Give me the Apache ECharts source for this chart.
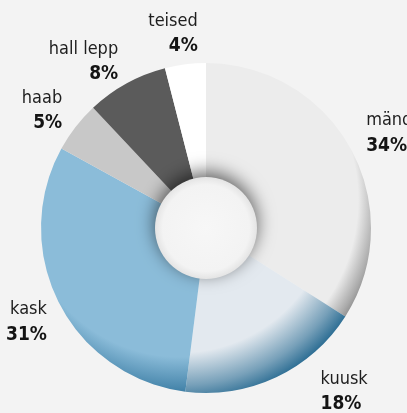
<!DOCTYPE html>
<html>
<head>
<meta charset="utf-8">
<script src="https://cdn.jsdelivr.net/npm/echarts@6/dist/echarts.min.js"></script>
<style>
  html, body { margin: 0; padding: 0; background: #f3f3f3; }
  #chart { width: 407px; height: 413px; }
</style>
</head>
<body>
<div id="chart"></div>
<script>
// tree species share, %
var species = ['mänd', 'kuusk', 'kask', 'haab', 'hall lepp', 'teised']
var shares = [34, 18, 31, 5, 8, 4]

// base colour, rim colour and where the rim shading starts, per slice
var baseColors = ['#ececec', '#e3e9ef', '#8bbcd9', '#c8c8c8', '#5b5b5b', '#ffffff']
var rimColors = ['#6a6a6a', '#0a5682', '#0a5682', '#8e8e8e', '#383838', '#cfcfcf']
var rimStart = [0.84, 0.72, 0.74, 0.84, 0.84, 0.84]

var CX = 206
var CY = 228
var LABEL_R = 201
// where the aligned edge of each label sits, relative to its radial spot
var labelShift = {
  'mänd': [-16, 2],
  'kuusk': [29, -18],
  'kask': [20, 3],
  'haab': [15, 6],
  'hall lepp': [9, 10],
  'teised': [17, 5]
}

var total = shares.reduce(function (a, b) { return a + b }, 0)

function midAngle(i) {
  var before = 0
  for (var k = 0; k < i; k++) before += shares[k]
  return (before + shares[i] / 2) / total * Math.PI * 2
}

function shade(i) {
  var s = rimStart[i]
  return {
    type: 'radial',
    x: 180,
    y: 200,
    r: 212,
    global: true,
    colorStops: [
      { offset: 0, color: baseColors[i] },
      { offset: s, color: baseColors[i] },
      { offset: s + (1 - s) * 0.55, color: echarts.color.lerp(0.5, [baseColors[i], rimColors[i]]) },
      { offset: 1, color: rimColors[i] }
    ]
  }
}

var chart = echarts.init(document.getElementById('chart'))

chart.setOption({
  backgroundColor: '#f3f3f3',
  animation: false,
  series: [
    {
      type: 'pie',
      center: [CX, CY],
      radius: [40, 165],
      startAngle: 90,
      clockwise: true,
      avoidLabelOverlap: false,
      silent: true,
      data: species.map(function (name, i) {
        return { name: name, value: shares[i], itemStyle: { color: shade(i) } }
      }),
      label: {
        show: true,
        position: 'outside',
        formatter: '{n|{b}}\n{p|{c}%}',
        rich: {
          n: {
            fontFamily: '"DejaVu Sans Condensed", Roboto, sans-serif',
            fontSize: 18,
            color: '#1e1e1e',
            lineHeight: 25
          },
          p: {
            fontFamily: '"DejaVu Sans Condensed", Roboto, sans-serif',
            fontSize: 19,
            fontWeight: 'bold',
            color: '#141414',
            lineHeight: 25
          }
        }
      },
      labelLine: { show: false },
      labelLayout: function (p) {
        var a = midAngle(p.dataIndex)
        var s = Math.sin(a)
        var n = labelShift[species[p.dataIndex]] || [0, 0]
        return {
          x: CX + LABEL_R * s + n[0],
          y: CY - LABEL_R * Math.cos(a) + n[1],
          align: s < 0 ? 'right' : 'left',
          verticalAlign: 'middle'
        }
      }
    },
    {
      // the hole in the middle with its soft shadow
      type: 'pie',
      center: [CX, CY],
      radius: [0, 51],
      silent: true,
      label: { show: false },
      labelLine: { show: false },
      data: [{
        value: 1,
        itemStyle: {
          color: {
            type: 'radial',
            x: 0.5,
            y: 0.5,
            r: 0.5,
            colorStops: [
              { offset: 0, color: '#f7f7f7' },
              { offset: 0.85, color: '#f3f3f3' },
              { offset: 1, color: '#e4e4e4' }
            ]
          },
          shadowBlur: 18,
          shadowColor: 'rgba(0, 0, 0, 0.6)',
          shadowOffsetY: -5
        }
      }]
    }
  ]
})
</script>
</body>
</html>
